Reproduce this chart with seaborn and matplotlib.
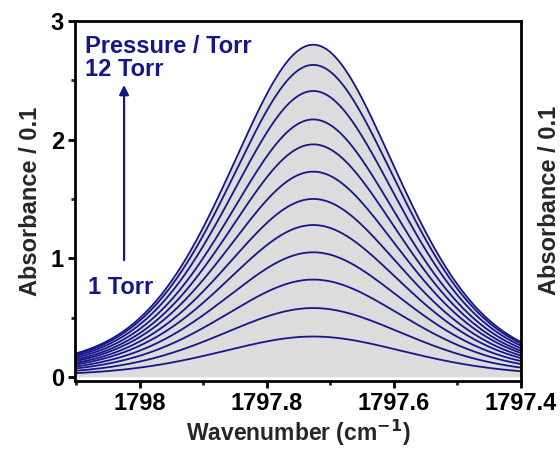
import numpy as np
import pandas as pd
import matplotlib
matplotlib.use("Agg")
import matplotlib.pyplot as plt
from matplotlib.ticker import MultipleLocator
import seaborn as sns

# ---- data ----
pressures = [1, 2, 3, 4, 5, 6, 7, 8, 9, 10, 11, 12]           # Torr
peak_heights = [0.34, 0.58, 0.82, 1.05, 1.28, 1.50, 1.73, 1.96, 2.17, 2.41, 2.63, 2.80]
half_widths = [0.178, 0.176, 0.174, 0.172, 0.170, 0.168, 0.166, 0.164, 0.163, 0.162, 0.161, 0.160]
lorentz_frac = [0.32, 0.32, 0.33, 0.33, 0.34, 0.34, 0.35, 0.35, 0.36, 0.36, 0.36, 0.36]
line_center = 1797.727
x_ticks = [1798.0, 1797.8, 1797.6, 1797.4]
y_ticks = [0, 1, 2, 3]

sns.set_theme(style="ticks")
plt.rcParams["font.family"] = ["Liberation Sans", "DejaVu Sans"]
plt.rcParams["font.weight"] = "bold"

navy = "#16168a"
wn = np.linspace(1798.12, 1797.38, 600)

def pseudo_voigt(x, h, w, eta):
    d = (x - line_center) / w
    return h * (eta / (1 + d ** 2) + (1 - eta) * np.exp(-np.log(2) * d ** 2))

rows = []
for p, h, w, e in zip(pressures, peak_heights, half_widths, lorentz_frac):
    y = pseudo_voigt(wn, h, w, e)
    rows.append(pd.DataFrame({"wn": wn, "abs": y, "pressure": p}))
df = pd.concat(rows, ignore_index=True)

fig = plt.figure(figsize=(5.6, 4.5), dpi=100)
ax = fig.add_axes([75 / 560, 1 - 381 / 450, (521 - 75) / 560, (381 - 21) / 450])

top = df[df["pressure"] == pressures[-1]]
ax.fill_between(top["wn"], 0, top["abs"], color="#dcdcdc", zorder=1, lw=0)
sns.lineplot(data=df, x="wn", y="abs", hue="pressure",
             palette=[navy] * len(pressures), legend=False,
             linewidth=1.3, ax=ax, zorder=2, estimator=None, sort=False)

ax.set_xlim(1798.102, 1797.4)
ax.set_ylim(-0.035, 3.0)
ax.set_xticks(x_ticks)
ax.set_xticklabels([f"{v:g}" for v in x_ticks])
ax.set_yticks(y_ticks)
ax.xaxis.set_minor_locator(MultipleLocator(0.1))
ax.yaxis.set_minor_locator(MultipleLocator(0.5))
ax.tick_params(axis="both", which="major", direction="out", length=5, width=2,
               labelsize=17, colors="black", pad=3)
ax.tick_params(axis="both", which="minor", direction="out", length=3, width=2)
for lab in ax.get_xticklabels() + ax.get_yticklabels():
    lab.set_fontweight("bold")
for s in ax.spines.values():
    s.set_linewidth(2)
    s.set_color("black")

ax.set_xlabel("Wavenumber (cm$^{\\mathbf{-1}}$)", fontsize=16.5, fontweight="bold", labelpad=2)
ax.set_ylabel("Absorbance / 0.1", fontsize=17, fontweight="bold", labelpad=6)

ax.text(0.022, 0.928, "Pressure / Torr", transform=ax.transAxes, color=navy,
        fontsize=17, fontweight="bold", va="center", ha="left")
ax.text(0.022, 0.864, "12 Torr", transform=ax.transAxes, color=navy,
        fontsize=17, fontweight="bold", va="center", ha="left")
ax.text(0.03, 0.261, "1 Torr", transform=ax.transAxes, color=navy,
        fontsize=17, fontweight="bold", va="center", ha="left")
ax.annotate("", xy=(0.11, 0.83), xytext=(0.11, 0.328), xycoords="axes fraction",
            arrowprops=dict(arrowstyle="-|>", color=navy, lw=1.6, mutation_scale=14))

fig.text(549 / 560, 1 - 200 / 450, "Absorbance / 0.1", rotation=90, fontsize=17,
         fontweight="bold", ha="center", va="center")

fig.savefig("out.png", dpi=100)
